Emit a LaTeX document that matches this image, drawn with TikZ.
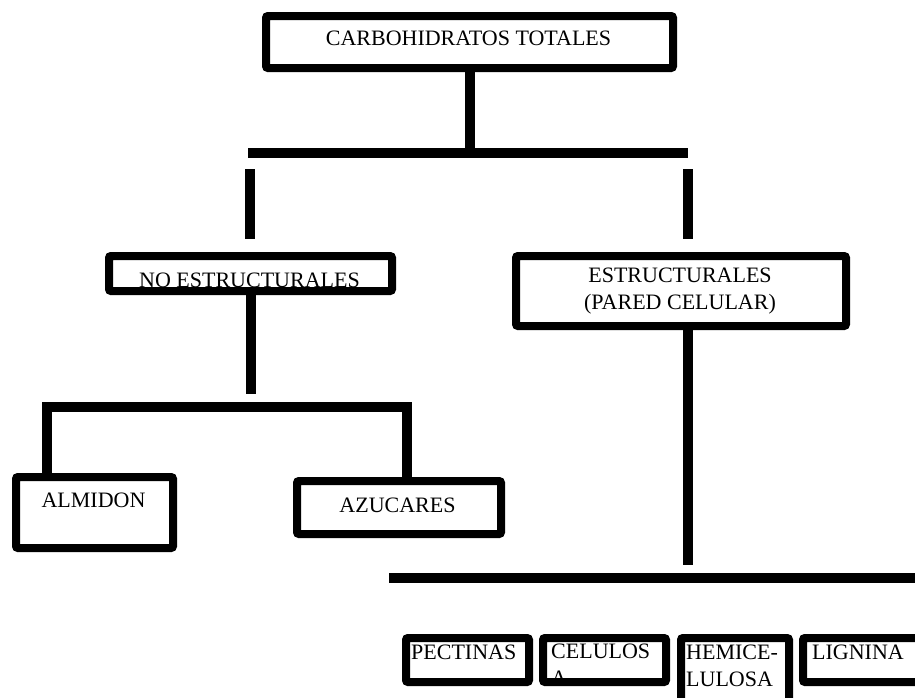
\documentclass[tikz,border=0pt]{standalone}
\usepackage{fontspec}
\setmainfont{Liberation Serif}

\begin{document}
\begin{tikzpicture}[x=1pt,y=-1pt,
  box/.style={draw=black,line width=8pt,rounded corners=2pt,inner sep=0pt},
  txt/.style={inner sep=0pt,font=\fontsize{22}{27}\selectfont},
  bar/.style={line width=10pt}]
\clip (0,0) rectangle (915,697);
\fill[white] (0,0) rectangle (915,697);

\node[txt,anchor=base] (carbT) at (468.5,45) {CARBOHIDRATOS TOTALES};
\node[txt,anchor=base] (noestT) at (249.5,287) {NO ESTRUCTURALES};
\node[txt,align=center] (estrT) at (680,291) {ESTRUCTURALES\\(PARED CELULAR)};
\node[txt,anchor=base] (almidonT) at (93.5,507) {ALMIDON};
\node[txt,anchor=base] (azucT) at (397.5,512) {AZUCARES};
\node[txt,anchor=base west] (pectT) at (411,659) {PECTINAS};
\node[txt,anchor=north west,align=left] (celulT) at (551,644) {CELULOS\\A};
\node[txt,anchor=west,align=left] (hemiT) at (686,666) {HEMICE-\\LULOSA};
\node[txt,anchor=base west] (lignT) at (812,659) {LIGNINA};

\node[box,minimum width=407pt,minimum height=52pt] (carb) at (469.5,42) {};
\node[box,minimum width=283pt,minimum height=35pt] (noest) at (250.5,273.5) {};
\node[box,minimum width=330pt,minimum height=70pt] (estr) at (681,291) {};
\node[box,minimum width=157pt,minimum height=71pt] (almidon) at (94.5,512.5) {};
\node[box,minimum width=204pt,minimum height=53pt] (azuc) at (399,507.5) {};
\node[box,minimum width=123pt,minimum height=44pt] (pect) at (467.5,660) {};
\node[box,minimum width=123pt,minimum height=44pt] (celul) at (604.5,660) {};
\node[box,minimum width=108pt,minimum height=74pt] (hemi) at (735,675) {};
\node[box,minimum width=126pt,minimum height=44pt] (lign) at (866,660) {};

\coordinate (b1l) at (248,153);
\coordinate (b1r) at (688,153);
\coordinate (v1a) at (250,169);
\coordinate (v1b) at (250,239);
\coordinate (v2a) at (688,169);
\coordinate (v2b) at (688,239);
\coordinate (n1) at (250.5,394);
\coordinate (b2l) at (43,407);
\coordinate (b2r) at (412,407);
\coordinate (a1) at (47,402);
\coordinate (z1) at (407,402);
\coordinate (e1) at (688,330);
\coordinate (e2) at (688,565);
\coordinate (b3l) at (389,578);
\coordinate (b3r) at (925,578);

\draw[bar] (carb.south) -- (carb.south |- b1l);
\draw[bar] (b1l) -- (b1r);
\draw[bar] (v1a) -- (v1b);
\draw[bar] (v2a) -- (v2b);
\draw[bar] (noest.south) -- (n1);
\draw[bar] (b2l) -- (b2r);
\draw[bar] (a1) -- (a1 |- almidon.north);
\draw[bar] (z1) -- (z1 |- azuc.north);
\draw[bar] (e1) -- (e2);
\draw[bar] (b3l) -- (b3r);
\end{tikzpicture}
\end{document}
